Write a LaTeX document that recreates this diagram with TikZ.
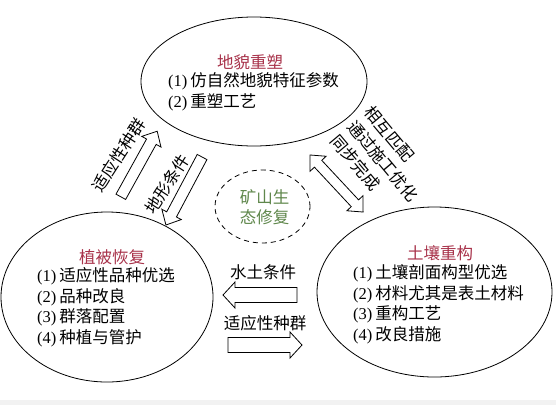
\documentclass[tikz,border=0pt]{standalone}
\usepackage{fontspec}
\setmainfont{Noto Sans CJK SC}
\newfontfamily\latf{Liberation Serif}
\usetikzlibrary{shapes.geometric}
\newcommand\numb[1]{{\latf(#1)}\hspace{3pt}}
\definecolor{titlered}{RGB}{168,50,74}
\definecolor{ecogreen}{RGB}{95,135,75}
\tikzset{
  txt/.style={font=\fontsize{16.5pt}{20.5pt}\selectfont, inner sep=0pt},
  bubble/.style={draw, ellipse, line width=0.8pt, inner sep=0pt},
  titletxt/.style={txt, text=titlered},
  listtxt/.style={txt, align=left, anchor=west},
  barrow/.style={draw, line width=0.8pt, fill=white, line join=miter},
}
% center x, center y, angle, length, shaft half width, head half width
\newcommand\onearrow[6]{%
  \begin{scope}[shift={(#1,#2)}, rotate=#3]
    \draw[barrow] ({-#4/2},{-#5}) -- ({#4/2-12},{-#5}) -- ({#4/2-12},{-#6})
      -- ({#4/2},0) -- ({#4/2-12},{#6}) -- ({#4/2-12},{#5}) -- ({-#4/2},{#5}) -- cycle;
  \end{scope}}
\newcommand\twoarrow[6]{%
  \begin{scope}[shift={(#1,#2)}, rotate=#3]
    \draw[barrow] ({-#4/2},0) -- ({-#4/2+12},{#6}) -- ({-#4/2+12},{#5})
      -- ({#4/2-12},{#5}) -- ({#4/2-12},{#6}) -- ({#4/2},0)
      -- ({#4/2-12},{-#6}) -- ({#4/2-12},{-#5}) -- ({-#4/2+12},{-#5})
      -- ({-#4/2+12},{-#6}) -- cycle;
  \end{scope}}
\begin{document}
\begin{tikzpicture}[x=1pt,y=-1pt]
\useasboundingbox (0,0) rectangle (556,405);
\fill[white] (0,0) rectangle (556,400);
\fill[gray!10] (0,400) rectangle (556,405);

% ellipses
\node[bubble, minimum width=226pt, minimum height=129pt] (top) at (254,81.5) {};
\node[bubble, minimum width=212pt, minimum height=170pt] (veg) at (107,297) {};
\node[bubble, minimum width=235pt, minimum height=170pt] (soil) at (434.5,292) {};
\node[bubble, dashed, dash pattern=on 5pt off 4pt, minimum width=95pt, minimum height=73pt] (eco) at (262.5,206.5) {};

% texts in ellipses
\node[titletxt] (toptitle) at (250,62) {地貌重塑};
\node[listtxt] (toplist) at (168,92) {\numb{1}仿自然地貌特征参数\\\numb{2}重塑工艺};
\node[titletxt] (vegtitle) at (112,257) {植被恢复};
\node[listtxt] (veglist) at (37,307.5) {\numb{1}适应性品种优选\\\numb{2}品种改良\\\numb{3}群落配置\\\numb{4}种植与管护};
\node[titletxt] (soiltitle) at (440,253) {土壤重构};
\node[listtxt] (soillist) at (353,304) {\numb{1}土壤剖面构型优选\\\numb{2}材料尤其是表土材料\\\numb{3}重构工艺\\\numb{4}改良措施};
\node[txt, text=ecogreen, align=center] (ecotxt) at (264.5,207) {矿山生\\态修复};

% block arrows
\onearrow{260}{295}{180}{74}{7.5}{13}
\onearrow{265}{345}{0}{74}{7.5}{13}
\onearrow{139}{164}{61}{75}{5.5}{11}
\onearrow{184}{191}{242}{77}{5.5}{11}
\twoarrow{336.5}{183.5}{-47}{78}{5}{11}

% arrow labels
\node[txt] (water) at (263,272) {水土条件};
\node[txt] (spec) at (265,323) {适应性种群};
\node[txt, rotate=57] (spec2) at (119,155) {适应性种群};
\node[txt, rotate=57] (terrain) at (167,184) {地形条件};
\node[txt, rotate=-50, align=left] (match) at (383,161) {相互匹配\\[1.5pt]通过施工优化\\[1.5pt]同步完成};
\end{tikzpicture}
\end{document}
